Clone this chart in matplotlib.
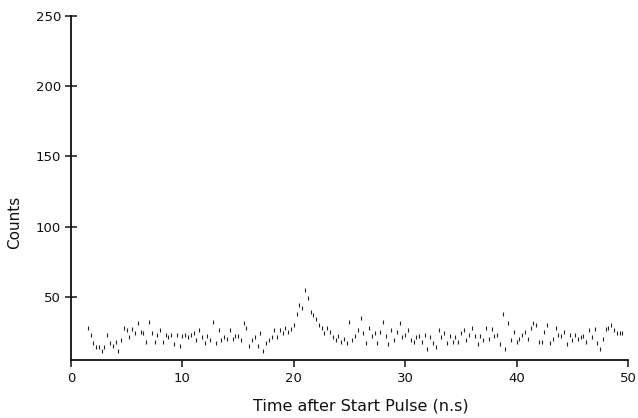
import numpy as np
import matplotlib
matplotlib.use("Agg")
import matplotlib.pyplot as plt

# Time (ns), 0.25 ns channels starting at 1.5 ns
t_start = 1.5
t_step = 0.25
counts = [
    28, 23, 17, 14,   14, 11, 14, 23,   17, 15, 18, 11,   19, 28, 26, 21,
    27, 24, 31, 25,   24, 18, 32, 24,   18, 23, 26, 18,   23, 21, 23, 16,
    23, 15, 22, 23,   21, 23, 24, 19,   26, 21, 17, 22,   19, 32, 17, 26,
    19, 21, 20, 26,   20, 22, 22, 19,   31, 28, 15, 19,   21, 15, 24, 11,
    17, 19, 21, 26,   21, 26, 24, 28,   25, 27, 30, 38,   44, 42, 55, 49,
    39, 37, 34, 30,   28, 24, 28, 25,   21, 19, 22, 18,   20, 17, 32, 19,
    22, 26, 35, 24,   17, 28, 22, 24,   17, 25, 32, 22,   16, 26, 19, 25,
    31, 21, 23, 26,   19, 18, 21, 22,   18, 23, 13, 21,   17, 14, 26, 21,
    24, 17, 22, 18,   21, 18, 24, 26,   19, 23, 28, 22,   16, 22, 19, 28,
    20, 27, 22, 23,   16, 38, 13, 31,   19, 25, 18, 20,   23, 25, 20, 28,
    31, 30, 18, 18,   25, 30, 17, 20,   28, 23, 22, 25,   16, 23, 19, 23,
    20, 21, 22, 18,   26, 21, 27, 17,   13, 20, 27, 28,   30, 26, 24, 24,
    24,
]
times = t_start + t_step * np.arange(len(counts))

x_ticks = [0, 10, 20, 30, 40, 50]
y_ticks = [50, 100, 150, 200, 250]

plt.rcParams['font.family'] = ['DejaVu Sans']

fig = plt.figure(figsize=(6.38, 4.18), dpi=100)
ax = fig.add_axes([0.1113, 0.139, 0.873, 0.823])

ax.plot(times, counts, linestyle='none', marker='|', markersize=2.6,
        markeredgewidth=0.8, color='#222222')

ax.set_xlim(0, 50)
ax.set_ylim(5, 250)
ax.set_xticks(x_ticks)
ax.set_yticks(y_ticks)
ax.spines['top'].set_visible(False)
ax.spines['right'].set_visible(False)
for s in ('left', 'bottom'):
    ax.spines[s].set_linewidth(1.3)
    ax.spines[s].set_color('#111111')

ax.tick_params(axis='y', direction='inout', length=8, width=1.1, pad=3,
               labelsize=9.5, colors='#111111')
ax.tick_params(axis='x', direction='out', length=5, width=1.1, pad=4,
               labelsize=9.5, colors='#111111')

ax.set_xlabel('Time after Start Pulse (n.s)', fontsize=11.5, color='#111111')
ax.set_ylabel('Counts', fontsize=11, color='#111111')
ax.xaxis.set_label_coords(0.52, -0.112)
ax.yaxis.set_label_coords(-0.088, 0.40)

fig.savefig('out.png', dpi=100)
